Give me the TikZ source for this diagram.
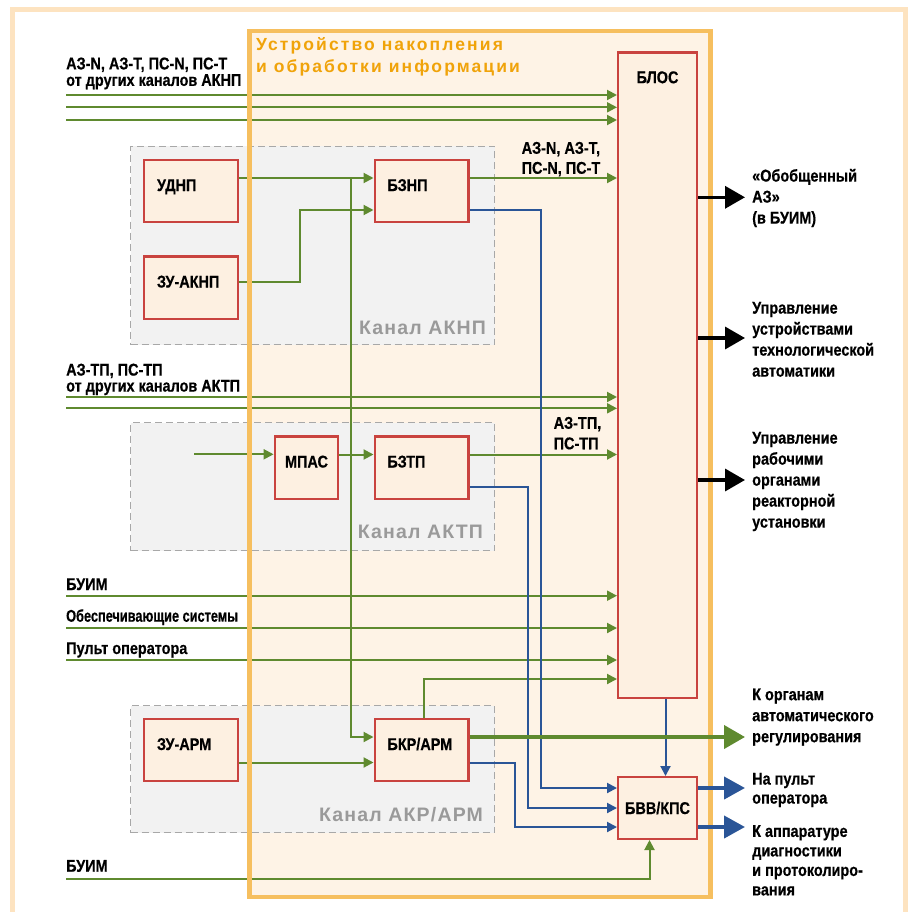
\documentclass[tikz,border=0pt]{standalone}
\usepackage{fontspec}
\setmainfont{Liberation Sans}[FakeStretch=0.85,BoldFeatures={FakeBold=0.5}]
\newfontfamily\titlefont{Liberation Sans}[LetterSpace=12]
\newfontfamily\chanfont{Liberation Sans}[LetterSpace=6]
\newfontfamily\tightfont{Liberation Sans}[FakeStretch=0.75,BoldFeatures={FakeBold=0.5}]
\usepackage{xcolor}
\usetikzlibrary{arrows.meta,positioning}

\definecolor{frameorange}{HTML}{FDE3C0}
\definecolor{devborder}{HTML}{F6BF5F}
\definecolor{devfill}{HTML}{FEF3E6}
\definecolor{titleorange}{HTML}{F0A30A}
\definecolor{chanfill}{HTML}{F2F2F2}
\definecolor{chanborder}{HTML}{A8A8A8}
\definecolor{chantext}{HTML}{9A9A9A}
\definecolor{unitred}{HTML}{C9433F}
\definecolor{unitfill}{HTML}{FDF0E1}
\definecolor{wiregreen}{HTML}{5F8A2F}
\definecolor{wireblue}{HTML}{2A5597}

\begin{document}
\begin{tikzpicture}[x=1pt,y=-1pt,
  unit/.style={draw=unitred,line width=2.4pt,fill=unitfill,inner sep=0pt,minimum width=93.6pt,minimum height=62.4pt,text width=68pt,align=left,text height=9pt,text depth=9pt,font=\bfseries\fontsize{17}{20}\selectfont},
  chan/.style={draw=chanborder,fill=chanfill,line width=1.3pt,dash pattern=on 7pt off 4pt,minimum width=364pt},
  chanlbl/.style={font=\chanfont\bfseries\fontsize{19.5}{20}\selectfont,text=chantext,inner sep=0pt,anchor=base east},
  lbl/.style={font=\bfseries\fontsize{17}{21}\selectfont,inner sep=0pt,align=left},
  wire/.style={draw=wiregreen,line width=2pt,-{Triangle[length=10pt,width=10pt]}},
  bluewire/.style={draw=wireblue,line width=2pt,-{Triangle[length=10pt,width=10pt]}},
  outarrow/.style={draw=black,line width=3.5pt,-{Triangle[length=20pt,width=22pt]}},
  regarrow/.style={draw=wiregreen,line width=4pt,-{Triangle[length=21pt,width=23pt]}},
  bvvarrow/.style={draw=wireblue,line width=4pt,-{Triangle[length=21pt,width=22pt]}}
]
\useasboundingbox (0,0) rectangle (911,912);
\fill[white] (0,0) rectangle (911,912);
\draw[frameorange,line width=5pt] (12.5,940) -- (12.5,9.2) -- (905.5,9.2) -- (905.5,940);

% device
\node[fill=devfill,minimum width=461pt,minimum height=866pt,inner sep=0pt] (device) at (480,464) {};
\node[font=\titlefont\bfseries\fontsize{17.5}{21.7}\selectfont,text=titleorange,inner sep=0pt,align=left,anchor=north west] (title) at (256,37.5) {Устройство накопления\\и обработки информации};

% channels
\node[chan,minimum height=198pt] (chanaknp) at (312.5,245.5) {};
\node[chan,minimum height=128pt] (chanaktp) at (312.5,486.5) {};
\node[chan,minimum height=127pt] (chanarm) at (312.5,769) {};
\node[chanlbl] (chanaknp-t) at ([xshift=-9pt,yshift=11pt]chanaknp.south east) {Канал АКНП};
\node[chanlbl] (chanaktp-t) at ([xshift=-12pt,yshift=12.5pt]chanaktp.south east) {Канал АКТП};
\node[chanlbl] (chanarm-t) at ([xshift=-12pt,yshift=11.5pt]chanarm.south east) {Канал АКР/АРМ};

% units
\node[unit] (udnp) at (191,191) {УДНП};
\node[unit] (zuaknp) at (191,287.5) {ЗУ-АКНП};
\node[unit] (bznp) at (421.5,191) {БЗНП};
\node[unit,minimum width=63.4pt,text width=55pt,align=center] (mpas) at (306.5,467.5) {МПАС};
\node[unit] (bztp) at (421.5,467.5) {БЗТП};
\node[unit] (zuarm) at (191,750) {ЗУ-АРМ};
\node[unit] (bkrarm) at (421.5,750) {БКР/АРМ};
\node[unit,minimum width=78.6pt,minimum height=61.6pt,text width=70pt,align=center,text height=12pt,text depth=0pt] (bvv) at (657.5,808) {БВВ/КПС};
\node[unit,minimum width=78.6pt,minimum height=645.6pt,anchor=north,
  label={[font=\bfseries\fontsize{17}{20}\selectfont,anchor=base,yshift=-32pt]north:БЛОС}] (blos) at (657.5,51.2) {};

% inputs
\coordinate (aknpin1) at (66,95);
\coordinate (aknpin2) at (66,107.3);
\coordinate (aknpin3) at (66,120);
\coordinate (aktpin1) at (66,397);
\coordinate (aktpin2) at (66,408.3);
\coordinate (buimin) at (66,595.7);
\coordinate (obespin) at (66,628);
\coordinate (pultin) at (66,660);
\coordinate (buimin2) at (66,879);
\coordinate (mpasin) at (194,454.3);
\coordinate (branch) at (351,178);
\coordinate (armtap) at (424,679);

\node[lbl,anchor=north west,font=\bfseries\fontsize{17}{16.5}\selectfont] (aknp-t) at (66,57.3) {АЗ-N, АЗ-Т, ПС-N, ПС-Т\\от других каналов АКНП};
\node[lbl,anchor=north west,font=\bfseries\fontsize{17}{16}\selectfont] (aktp-t) at (66,363.5) {АЗ-ТП, ПС-ТП\\от других каналов АКТП};
\node[lbl,anchor=base west] (buim-t) at (66,590) {БУИМ};
\node[lbl,anchor=base west,font=\tightfont\bfseries\fontsize{17}{21}\selectfont] (obesp-t) at (66,621.7) {Обеспечивающие системы};
\node[lbl,anchor=base west] (pult-t) at (66,654) {Пульт оператора};
\node[lbl,anchor=base west] (buim2-t) at (66,871.7) {БУИМ};
\node[lbl,anchor=north west,font=\bfseries\fontsize{17}{20}\selectfont] (bznp-t) at (521.5,141.7) {АЗ-N, АЗ-Т,\\ПС-N, ПС-Т};
\node[lbl,anchor=north west,font=\bfseries\fontsize{17}{20.5}\selectfont] (bztp-t) at (553.5,416.7) {АЗ-ТП,\\ПС-ТП};

% green links
\draw[wire] (aknpin1) -- (aknpin1 -| blos.west);
\draw[wire] (aknpin2) -- (aknpin2 -| blos.west);
\draw[wire] (aknpin3) -- (aknpin3 -| blos.west);
\draw[wire] (aktpin1) -- (aktpin1 -| blos.west);
\draw[wire] (aktpin2) -- (aktpin2 -| blos.west);
\draw[wire] (buimin) -- (buimin -| blos.west);
\draw[wire] (obespin) -- (obespin -| blos.west);
\draw[wire] (pultin) -- (pultin -| blos.west);
\draw[wire] ([yshift=13pt]udnp.east) -- ([yshift=13pt]bznp.west);
\draw[wire] ([yshift=5.5pt]zuaknp.east) -- ++(61,0) |- ([yshift=-19pt]bznp.west);
\draw[wire] (branch) |- ([yshift=13pt]bkrarm.west);
\draw[wire] ([yshift=13pt]bznp.east) -- ([yshift=13pt]bznp.east -| blos.west);
\draw[wire] (mpasin) -- (mpasin -| mpas.west);
\draw[wire] ([yshift=13pt]mpas.east) -- ([yshift=13pt]bztp.west);
\draw[wire] ([yshift=13pt]bztp.east) -- ([yshift=13pt]bztp.east -| blos.west);
\draw[wire] ([yshift=-12.5pt]zuarm.east) -- ([yshift=-12.5pt]bkrarm.west);
\draw[wire] ([xshift=2.5pt]bkrarm.north) |- (armtap -| blos.west);
\draw[wire] (buimin2) -| ([xshift=-8pt]bvv.south);

% blue links
\draw[bluewire] ([yshift=-19pt]bznp.east) -- ++(71,0) |- ([yshift=20pt]bvv.west);
\draw[bluewire] ([yshift=-19pt]bztp.east) -- ++(58,0) |- (bvv.west);
\draw[bluewire] ([yshift=-12.5pt]bkrarm.east) -- ++(45,0) |- ([yshift=-19pt]bvv.west);
\draw[bluewire] ([xshift=8pt]blos.south) -- ([xshift=8pt]bvv.north);

% device border on top
\draw[devborder,line width=4.5pt] (device.north west) rectangle (device.south east);

% outputs
\coordinate (outaz) at (745,197.3);
\coordinate (outtech) at (745,338);
\coordinate (outrod) at (745,480);
\coordinate (outreg) at (745,737);
\coordinate (outpult) at (745,788);
\coordinate (outdiag) at (745,827);
\draw[outarrow] (outaz -| blos.east) -- (outaz);
\draw[outarrow] (outtech -| blos.east) -- (outtech);
\draw[outarrow] (outrod -| blos.east) -- (outrod);
\draw[regarrow] ([yshift=13pt]bkrarm.east) -- (outreg);
\draw[bvvarrow] (outpult -| bvv.east) -- (outpult);
\draw[bvvarrow] (outdiag -| bvv.east) -- (outdiag);

\node[lbl,anchor=north west] (outaz-t) at (752,168.7) {«Обобщенный\\АЗ»\\(в БУИМ)};
\node[lbl,anchor=north west] (outtech-t) at (752,301.7) {Управление\\устройствами\\технологической\\автоматики};
\node[lbl,anchor=north west] (outrod-t) at (752,431.7) {Управление\\рабочими\\органами\\реакторной\\установки};
\node[lbl,anchor=north west] (outreg-t) at (752,688.3) {К органам\\автоматического\\регулирования};
\node[lbl,anchor=north west,font=\bfseries\fontsize{17}{19}\selectfont] (outpult-t) at (752,772.7) {На пульт\\оператора};
\node[lbl,anchor=north west,font=\bfseries\fontsize{17}{19.5}\selectfont] (outdiag-t) at (752,825) {К аппаратуре\\диагностики\\и протоколиро-\\вания};
\end{tikzpicture}
\end{document}
